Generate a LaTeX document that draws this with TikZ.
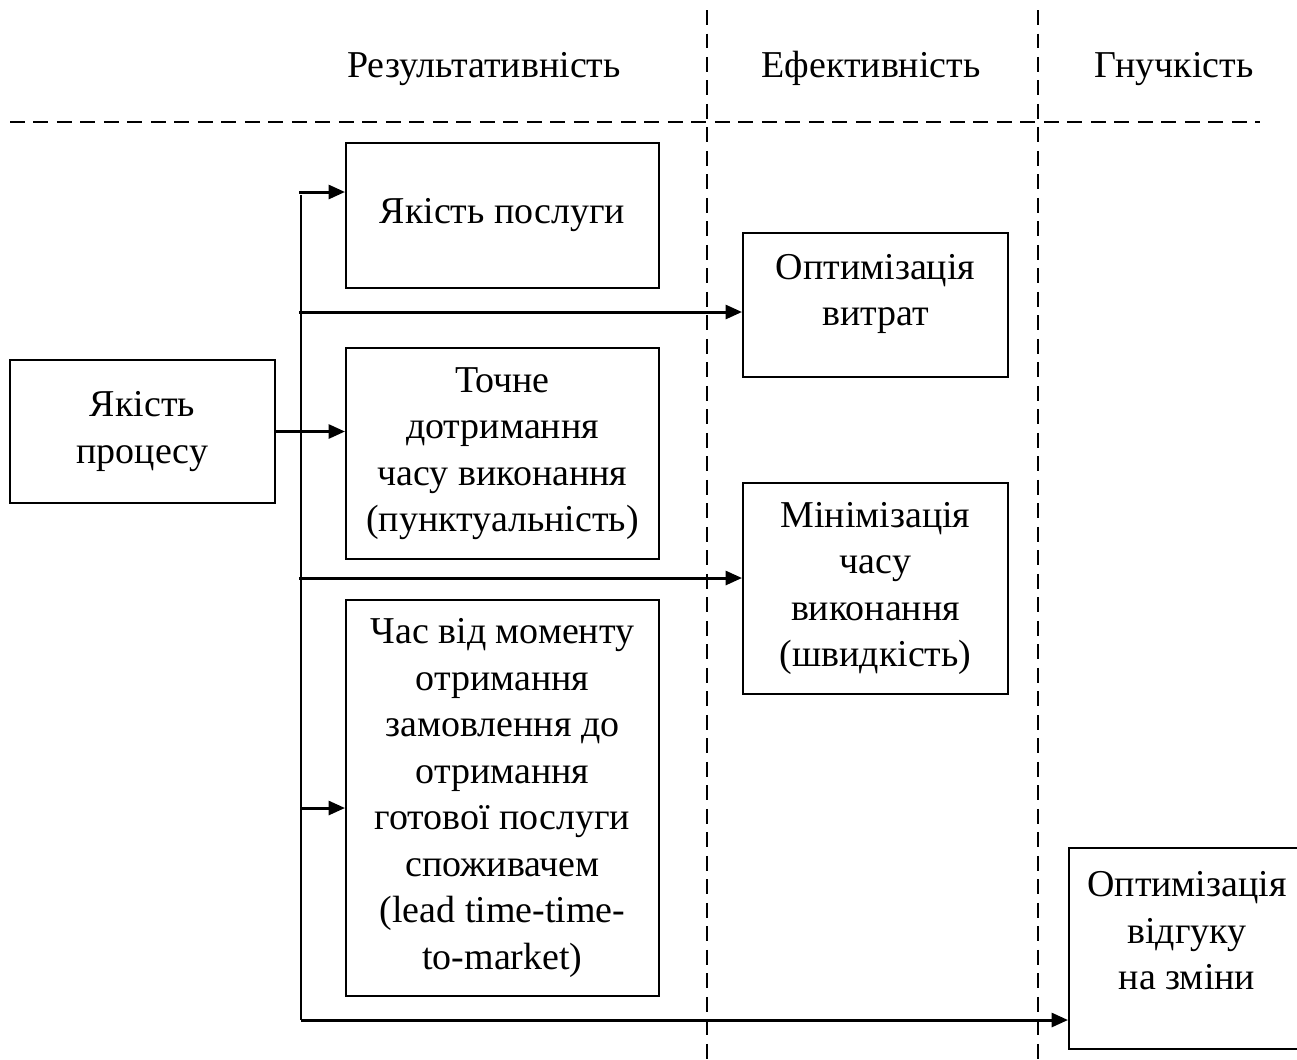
\documentclass[tikz,border=0pt]{standalone}
\usepackage{fontspec}
\setmainfont{Liberation Serif}
\usepackage{tikz}
\usetikzlibrary{arrows.meta,calc}

\begin{document}
\begin{tikzpicture}[x=0.02cm,y=-0.02cm,
    box/.style={draw,line width=1.1pt,align=center,inner sep=0pt,font=\fontsize{21.6}{26.5}\selectfont},
    head/.style={anchor=base,inner sep=0pt,font=\fontsize{21.6}{26.5}\selectfont},
    arr/.style={line width=1.7pt,-{Triangle[length=0.33cm,width=0.28cm]}},
    sep/.style={line width=0.8pt,dash pattern=on 0.3cm off 0.17cm}]
  \useasboundingbox (0,0) rectangle (1297,1059);
  % column separators
  \draw[sep] (707,10) -- (707,1059);
  \draw[sep] (1038,10) -- (1038,1059);
  \draw[sep] (10,122) -- (1260,122);
  \node[head] (hres) at (484,77) {Результативність};
  \node[head] (heff) at (871,77) {Ефективність};
  \node[head] (hflex) at (1174,77) {Гнучкість};
  % boxes
  \node[box,minimum width=265*0.02cm,minimum height=143*0.02cm] (proc) at (142.5,431.5) {Якість\\процесу};
  \node[box,minimum width=313*0.02cm,minimum height=145*0.02cm] (serv) at (502.5,215.5) {Якість послуги};
  \node[box,minimum width=313*0.02cm,minimum height=211*0.02cm] (punct) at (502.5,453.5) {Точне\\дотримання\\часу виконання\\(пунктуальність)};
  \node[box,minimum width=313*0.02cm,minimum height=396*0.02cm] (lead) at (502.5,798) {Час від моменту\\отримання\\замовлення до\\отримання\\готової послуги\\споживачем\\(lead time-time-\\to-market)};
  \node[box,minimum width=265*0.02cm,minimum height=144*0.02cm] (cost) at (875.5,305) {Оптимізація\\витрат\\[-0.33cm]\mbox{}};
  \node[box,minimum width=265*0.02cm,minimum height=211*0.02cm] (time) at (875.5,588.5) {Мінімізація\\часу\\виконання\\(швидкість)};
  \node[box,minimum width=236*0.02cm,minimum height=201*0.02cm] (resp) at (1187,948.5) {Оптимізація\\відгуку\\на зміни\\[-0.21cm]\mbox{}};
  % trunk
  \coordinate (t1) at (299,192);
  \coordinate (t2) at (299,312);
  \coordinate (t3) at (299,578);
  \coordinate (t4) at (301,808);
  \coordinate (t5) at (301,1020);
  \draw[line width=1.7pt] (301,195) -- (t5);
  \draw[arr] (t1) -- (t1 -| serv.west);
  \draw[arr] (t2) -- (t2 -| cost.west);
  \draw[arr] (proc.east) -- (proc.east -| punct.west);
  \draw[arr] (t3) -- (t3 -| time.west);
  \draw[arr] (t4) -- (t4 -| lead.west);
  \draw[arr] (t5) -- (t5 -| resp.west);
\end{tikzpicture}
\end{document}
